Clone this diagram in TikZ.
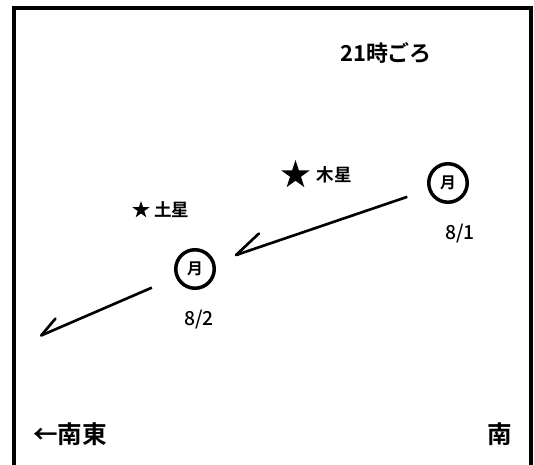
\documentclass[tikz,border=0pt]{standalone}
\usepackage{fontspec}
\setmainfont{Noto Sans CJK JP}[BoldFont={Noto Sans CJK JP Bold}]
\newfontfamily\datefont{Noto Sans CJK JP Medium}
\usetikzlibrary{arrows.meta,shapes.geometric}
\definecolor{inkcolor}{rgb}{0, 0, 0}
\tikzset{
	moon/.style={
		circle,
		draw=inkcolor,
		line width=2pt,
		fill=white,
		inner sep=0pt,
		minimum size=7.7mm,
		font=\bfseries\fontsize{9}{10}\selectfont
	},
	planet/.style={
		star,
		star points=5,
		star point ratio=2.6,
		fill=inkcolor,
		inner sep=0pt,
		minimum size=#1
	},
	arrow/.style={
		draw=inkcolor,
		line width=1.5pt,
		-{Straight Barb[angle=#1,harpoon,swap,round]}
	},
	datelabel/.style={
		text=inkcolor,
		font=\datefont\fontsize{11}{13}\selectfont
	},
	planetname/.style={
		text=inkcolor,
		font=\bfseries\fontsize{10}{12}\selectfont
	},
	timelabel/.style={
		text=inkcolor,
		inner sep=0pt,
		font=\bfseries\fontsize{12.5}{15}\selectfont
	},
	dirlabel/.style={
		text=inkcolor,
		inner sep=0pt,
		font=\bfseries\fontsize{14}{16}\selectfont
	},
	every label/.style={
		inner sep=0pt
	},
}

\begin{document}
\begin{tikzpicture}
\useasboundingbox (0,0) rectangle (10.68,9.30);
\draw[line width=2.4pt,draw=inkcolor] (0.276,0) -- (0.276,9.14) -- (10.626,9.14) -- (10.626,0);
\node [timelabel] (time) at (7.72,8.24) {21時ごろ};
\node [planet=6mm,label={[planetname,label distance=2.5mm]right:木星}] (jupiter) at (5.91,5.80) {};
\node [planet=3.6mm,label={[planetname,label distance=1.5mm]right:土星}] (saturn) at (2.82,5.10) {};
\node [moon,label={[datelabel,label distance=4mm,xshift=2.4mm]below:8/1}] (m1) at (8.96,5.64) {月};
\node [moon,label={[datelabel,label distance=4mm,xshift=0.8mm]below:8/2}] (m2) at (3.90,3.92) {月};
\coordinate (se) at (0.80,2.58);
\node [dirlabel] (southeast) at (1.40,0.62) {←南東};
\node [dirlabel] (south) at (10.00,0.62) {南};

\path
(m1) edge[arrow=49:6.3mm,shorten <=4.4mm,shorten >=4.2mm] (m2)
(m2) edge[arrow=53:4.4mm,shorten <=5.2mm] (se)
;
\end{tikzpicture}
\end{document}
